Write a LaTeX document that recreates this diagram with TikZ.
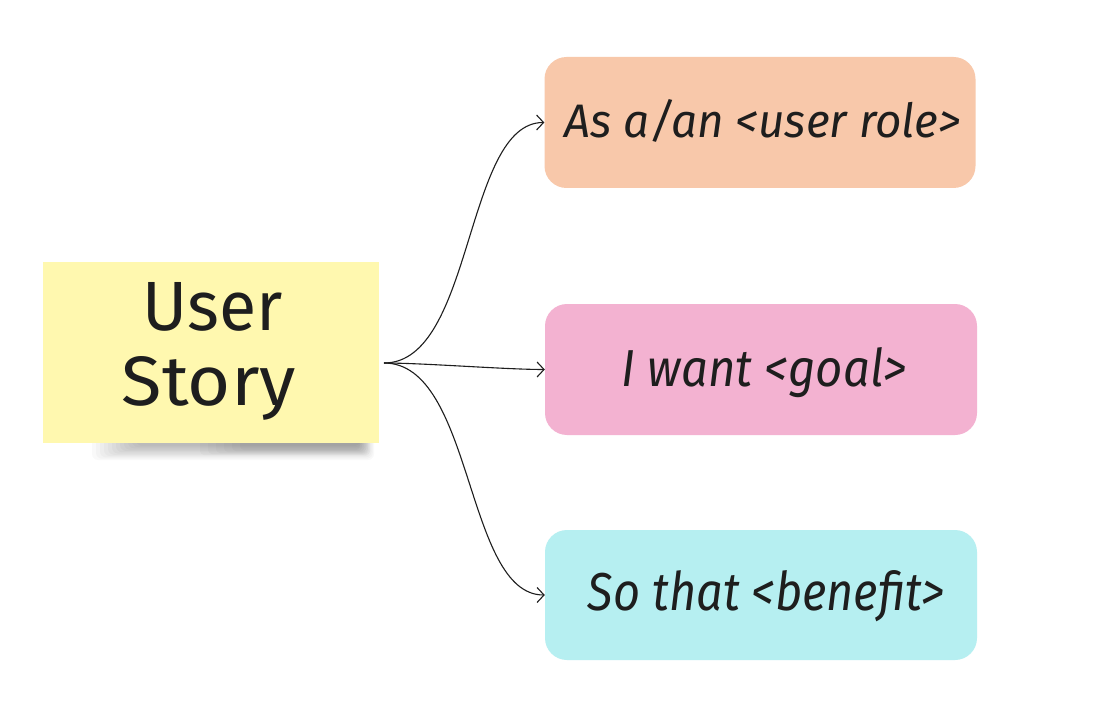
\documentclass[tikz,border=0pt]{standalone}
\usepackage{fontspec}
\setmainfont{Fira Sans}
\usepackage{graphicx}
\usetikzlibrary{arrows.meta}
\definecolor{notey}{HTML}{FFF8AF}
\definecolor{peach}{HTML}{F8C8AA}
\definecolor{pinkb}{HTML}{F3B2D1}
\definecolor{cyanb}{HTML}{B6EFF1}
\definecolor{ink}{HTML}{1E1E1E}
\begin{document}
\begin{tikzpicture}[x=1pt,y=-1pt,
  card/.style={rounded corners=22pt, inner sep=0pt, minimum width=431pt, minimum height=131pt, draw=none},
  txt/.style={anchor=base, inner sep=0pt, text=ink},
  conn/.style={draw=ink, line width=1.1pt, -{Straight Barb[length=7pt,width=15pt]}}]
\useasboundingbox (0,0) rectangle (1103,714);
\fill[white] (0,0) rectangle (1103,714);
% soft shadow under the sticky note
\foreach \i in {0,...,11} {
  \fill[black, opacity=0.022, rounded corners=6pt] (92+\i*4, 436) rectangle (374-\i*1.2, 460-\i*1.3);
}
\foreach \i in {0,...,5} {
  \fill[black, opacity=0.02, rounded corners=4pt] (200+\i*8, 440) rectangle (370-\i*2, 455-\i*1);
}
\node[fill=notey, minimum width=336pt, minimum height=181pt, inner sep=0pt] (note) at (211,352.5) {};
\node[card, fill=peach] (b1) at (760,122.5) {};
\node[card, fill=pinkb, minimum width=432pt] (b2) at (761,369.5) {};
\node[card, fill=cyanb, minimum width=432pt, minimum height=130pt] (b3) at (761,595) {};
\node[txt] (t1) at (763,138) {\resizebox{396pt}{38pt}{\itshape As a/an <user role>}};
\node[txt] (t2) at (764.5,386) {\resizebox{285pt}{39pt}{\itshape I want <goal>}};
\node[txt] (t3) at (766.5,610) {\resizebox{357pt}{40pt}{\itshape So that <benefit>}};
\node[txt] (u1) at (213,330) {\resizebox{140pt}{48pt}{User}};
\node[txt] (u2) at (209,405) {\resizebox{174pt}{49pt}{Story}};
\coordinate (src) at (384,363);
\draw[conn] (src) .. controls +(90,0) and +(-80,0) .. (b1.west);
\draw[conn] (src) .. controls +(40,0) and +(-40,0) .. (b2.west);
\draw[conn] (src) .. controls +(90,0) and +(-80,0) .. (b3.west);
\end{tikzpicture}
\end{document}
